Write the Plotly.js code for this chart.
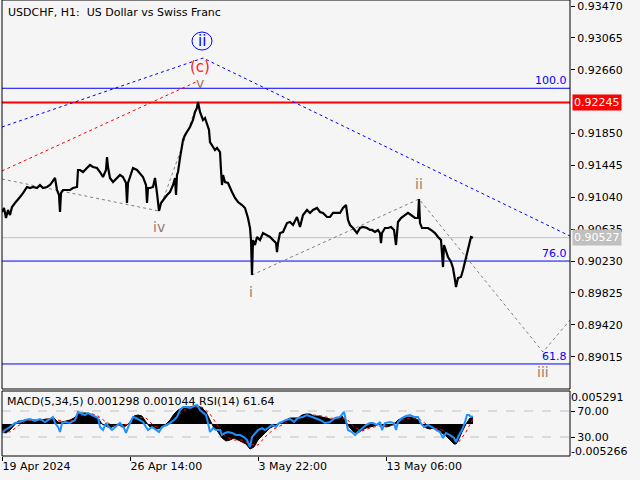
<!DOCTYPE html>
<html><head><meta charset="utf-8">
<script src="https://cdn.plot.ly/plotly-3.0.1.min.js"></script>
<style>html,body{margin:0;padding:0;background:#f5f5f5;}#chart{width:640px;height:480px;}</style>
</head><body><div id="chart"></div>
<script>
// ---- price (H1 bars, index 0 = 19 Apr 2024 06:00) ----
const priceIdx = [
 0,2,4,6,8,10,13,16,18,21,
 23,25,28,31,35,38,41,45,48,51,
 53,55,57,58,59,61,65,68,71,75,
 76,78,81,85,88,91,95,98,101,104,
 105,106,108,111,115,118,121,124,125,126,
 128,131,135,138,141,144,145,146,148,151,
 153,155,157,159,161,165,168,171,173,174,
 175,176,178,181,183,185,188,191,193,195,
 196,198,201,203,205,207,208,211,213,215,
 218,219,220,221,223,226,228,230,233,236,
 240,243,246,248,249,250,251,253,255,258,
 261,265,268,271,274,275,276,278,281,285,
 288,291,295,298,301,305,308,311,315,318,
 321,325,328,331,335,338,341,344,346,348,
 351,355,358,361,365,368,370,373,376,378,
 379,380,383,386,389,392,394,395,396,399,
 403,406,409,413,416,417,418,420,423,426,
 429,433,436,439,441,442,443,446,449,451,
 453,454,456,459,461,463,465,467,469,471];
const priceClose = [
 0.90853,0.90904,0.90777,0.90879,0.90815,0.90917,0.90968,0.91006,0.91044,0.91094,
 0.91133,0.91171,0.91158,0.91171,0.91158,0.91196,0.91158,0.91171,0.91196,0.91260,
 0.91285,0.91133,0.91069,0.90853,0.91094,0.91133,0.91133,0.91133,0.91158,0.91171,
 0.91387,0.91387,0.91361,0.91412,0.91450,0.91425,0.91412,0.91361,0.91298,0.91387,
 0.91552,0.91425,0.91285,0.91234,0.91285,0.91323,0.91298,0.91222,0.90968,0.91222,
 0.91298,0.91412,0.91387,0.91349,0.91298,0.91196,0.90968,0.91158,0.91158,0.91171,
 0.91285,0.91094,0.90866,0.90968,0.91006,0.91069,0.91107,0.91196,0.91285,0.91069,
 0.91323,0.91361,0.91539,0.91768,0.91831,0.91869,0.91933,0.92022,0.92124,0.92174,
 0.92250,0.92124,0.92022,0.92047,0.91958,0.91895,0.91742,0.91679,0.91641,0.91666,
 0.91615,0.91387,0.91196,0.91323,0.91234,0.91222,0.91158,0.91107,0.91031,0.90980,
 0.90942,0.90904,0.90777,0.90650,0.90497,0.90053,0.90497,0.90434,0.90536,0.90497,
 0.90586,0.90561,0.90536,0.90497,0.90459,0.90345,0.90459,0.90586,0.90599,0.90713,
 0.90726,0.90688,0.90790,0.90663,0.90815,0.90879,0.90841,0.90879,0.90904,0.90853,
 0.90841,0.90790,0.90790,0.90841,0.90841,0.90841,0.90904,0.90942,0.90752,0.90688,
 0.90650,0.90586,0.90650,0.90663,0.90650,0.90625,0.90625,0.90599,0.90625,0.90586,
 0.90459,0.90586,0.90650,0.90650,0.90663,0.90625,0.90434,0.90625,0.90726,0.90777,
 0.90815,0.90841,0.90815,0.90777,0.90777,0.91018,0.90713,0.90650,0.90650,0.90650,
 0.90625,0.90586,0.90536,0.90497,0.90154,0.90434,0.90396,0.90282,0.90218,0.90142,
 0.89989,0.89900,0.90015,0.90028,0.90116,0.90218,0.90332,0.90459,0.90536,0.90527];

// ---- x axis ticks ----
const xTickVals = [0, 128, 256, 384];
const xTickText = ["19 Apr 2024", "26 Apr 14:00", "3 May 22:00", "13 May 06:00"];
const xMax = 568;

// ---- price axis ----
const priceRange = [0.886047, 0.935462];
const priceTicks = [0.93470, 0.93065, 0.92660, 0.91850, 0.91445, 0.91040, 0.90635, 0.90230, 0.89825, 0.89420, 0.89015];
const bidPrice = 0.92245;
const lastPrice = 0.90527;
const fibLevels = [0.92425, 0.90230, 0.88923];
const fibLabels = ["100.0", "76.0", "61.8"];

// ---- Elliott wave lines ----
const waveBlueIdx = [0, 201, 568];
const waveBluePrice = [0.91933, 0.92809, 0.90548];
const waveRedIdx = [0, 194];
const waveRedPrice = [0.91374, 0.92505];
const waveGrayIdx = [0, 157, 196, null, 250, 417, 541, 568];
const waveGrayPrice = [0.91272, 0.90866, 0.92250, null, 0.90053, 0.91018, 0.89075, 0.89481];
const waveLabels = ["iv", "v", "i", "ii", "iii"];
const waveLabelIdx = [157, 198, 249, 417, 541];
const waveLabelPrice = [0.90663, 0.92492, 0.89837, 0.91209, 0.88821];
const bigWaveLabel = "(c)";
const bigWaveIdx = 198, bigWavePrice = 0.92695;
const circleLabel = "ii";
const circleIdx = 200, circlePrice = 0.93025;

// ---- MACD (5,34,5) ----
const macdIdx = [
 0,4,8,12,16,20,24,28,32,36,
 40,44,48,52,56,60,64,68,72,76,
 80,84,88,92,96,100,104,108,112,116,
 120,124,128,132,136,140,144,148,152,156,
 160,164,168,172,176,180,184,188,192,196,
 200,204,208,212,216,220,224,228,232,236,
 240,244,248,252,256,260,264,268,272,276,
 280,284,288,292,296,300,304,308,312,316,
 320,324,328,332,336,340,344,348,352,356,
 360,364,368,372,376,380,384,388,392,396,
 400,404,408,412,416,420,424,428,432,436,
 440,444,448,452,454,456,460,464,468,471];
const macdMain = [
 -0.00157,-0.00176,-0.00118,-0.00039,0.00059,0.00059,0.00078,0.00078,0.00078,0.00059,
 0.00078,0.00098,0.00098,0.00118,0.00039,0.00039,0.00059,0.00078,0.00118,0.00196,
 0.00216,0.00216,0.00196,0.00157,0.00118,0.00000,-0.00039,-0.00078,-0.00039,0.00000,
 -0.00059,-0.00039,0.00039,0.00157,0.00176,0.00157,0.00039,-0.00059,-0.00078,-0.00098,
 -0.00059,0.00000,0.00078,0.00196,0.00274,0.00314,0.00333,0.00333,0.00353,0.00353,
 0.00314,0.00235,0.00078,-0.00078,-0.00157,-0.00274,-0.00333,-0.00314,-0.00274,-0.00314,
 -0.00353,-0.00392,-0.00490,-0.00451,-0.00314,-0.00235,-0.00157,-0.00078,-0.00039,0.00000,
 0.00039,0.00078,0.00118,0.00118,0.00118,0.00176,0.00196,0.00196,0.00157,0.00157,
 0.00137,0.00118,0.00098,0.00078,0.00118,0.00157,0.00039,-0.00078,-0.00157,-0.00176,
 -0.00118,-0.00078,-0.00059,-0.00039,0.00000,-0.00020,-0.00059,-0.00039,0.00000,0.00078,
 0.00118,0.00137,0.00137,0.00118,0.00078,0.00000,-0.00078,-0.00098,-0.00078,-0.00118,
 -0.00176,-0.00235,-0.00314,-0.00392,-0.00392,-0.00333,-0.00157,0.00000,0.00118,0.00130];
const signalIdx = [
 0,8,16,24,32,40,48,56,64,72,
 80,88,96,104,112,120,128,136,144,152,
 160,168,176,184,192,200,208,216,224,232,
 240,248,256,264,272,280,288,296,304,312,
 320,328,336,344,352,360,368,376,384,392,
 400,408,416,424,432,440,448,456,464,471];
const macdSignal = [
 -0.00118,-0.00157,-0.00039,0.00059,0.00078,0.00078,0.00098,0.00078,0.00039,0.00078,
 0.00176,0.00216,0.00157,0.00039,-0.00039,-0.00020,0.00000,0.00137,0.00118,-0.00039,
 -0.00078,0.00000,0.00176,0.00294,0.00333,0.00333,0.00196,-0.00039,-0.00255,-0.00314,
 -0.00314,-0.00392,-0.00412,-0.00235,-0.00098,-0.00020,0.00078,0.00118,0.00157,0.00176,
 0.00157,0.00118,0.00098,0.00118,-0.00059,-0.00137,-0.00078,-0.00039,-0.00039,-0.00020,
 0.00078,0.00118,0.00118,0.00000,-0.00078,-0.00118,-0.00235,-0.00373,-0.00157,0.00104];
const macdRange = [-0.006271, 0.006467];
const macdTicks = [0.005291, -0.005266];
const macdTickText = ["0.005291", "-0.005266"];

// ---- RSI(14) ----
const rsiIdx = [
 0,3,8,13,18,23,28,33,38,43,
 48,51,53,56,58,60,63,68,73,76,
 78,83,86,90,93,96,98,101,104,106,
 110,114,118,122,124,127,131,134,138,141,
 144,146,150,154,157,160,164,168,172,175,
 178,181,184,188,192,195,198,201,204,206,
 208,211,214,218,220,223,226,230,234,238,
 242,245,248,250,253,256,260,263,266,270,
 274,277,280,284,288,292,296,301,305,311,
 318,323,328,333,338,342,344,346,350,353,
 356,360,364,368,371,375,378,380,383,388,
 392,394,396,400,404,408,412,416,418,422,
 426,430,434,438,441,444,448,452,454,457,
 460,463,465,467,469,471];
const rsiValues = [
 36.2,40.8,45.4,51.5,53.1,56.2,57.7,54.6,57.7,53.1,
 57.7,60.8,51.5,45.4,37.7,51.5,53.1,51.5,56.2,68.5,
 66.9,63.8,66.9,63.8,60.8,59.2,45.4,40.8,51.5,46.9,
 40.8,46.9,51.5,43.8,36.2,48.5,60.8,59.2,56.2,53.1,
 45.4,40.8,45.4,40.8,37.7,45.4,48.5,51.5,56.2,60.8,
 71.5,76.2,76.2,74.6,77.7,79.2,71.5,66.9,63.8,51.5,
 37.7,43.8,40.8,40.8,33.1,36.2,37.7,36.2,33.1,33.1,
 30.0,25.4,14.6,30.0,36.2,40.8,43.8,40.8,43.8,48.5,
 45.4,51.5,53.1,56.2,57.7,53.1,59.2,60.8,63.8,60.8,
 56.2,51.5,53.1,59.2,60.8,68.5,53.1,40.8,37.7,33.1,
 37.7,43.8,48.5,51.5,51.5,48.5,53.1,40.8,51.5,53.1,
 51.5,40.8,53.1,59.2,62.3,63.8,60.8,60.8,53.1,45.4,
 48.5,45.4,40.8,37.7,28.5,36.2,33.1,28.5,22.3,33.1,
 40.8,53.1,63.8,63.8,60.8,61.64];
const rsiRange = [0.77, 100.77];
const rsiLevels = [70, 30];
const rsiTickText = ["70.00", "30.00"];

const titleText = "USDCHF, H1:\u00a0\u00a0US Dollar vs Swiss Franc";
const indicatorText = "MACD(5,34,5) 0.001298 0.001044 RSI(14) 61.64";

// ---- layout geometry ----
const FONT = "DejaVu Sans";
const mainDomain = [0.1469, 1];
const subDomain = [0, 0.1425];
const bg = "#f5f5f5";

const traces = [
  {x: waveBlueIdx, y: waveBluePrice, xaxis:'x', yaxis:'y', mode:'lines',
   line:{color:'#0000ff', width:1, dash:'dot'}, hoverinfo:'skip'},
  {x: waveRedIdx, y: waveRedPrice, xaxis:'x', yaxis:'y', mode:'lines',
   line:{color:'#ff0000', width:1, dash:'dot'}, hoverinfo:'skip'},
  {x: waveGrayIdx, y: waveGrayPrice, xaxis:'x', yaxis:'y', mode:'lines', connectgaps:false,
   line:{color:'#808080', width:1, dash:'dot'}, hoverinfo:'skip'},
  {x: priceIdx, y: priceClose, xaxis:'x', yaxis:'y', mode:'lines',
   line:{color:'#000000', width:2.2}, hoverinfo:'skip'},
  {x: macdIdx, y: macdMain, xaxis:'x', yaxis:'y2', mode:'lines', fill:'tozeroy',
   fillcolor:'#000000', line:{color:'#000000', width:1}, hoverinfo:'skip'},
  {x: signalIdx, y: macdSignal, xaxis:'x', yaxis:'y2', mode:'lines',
   line:{color:'#ff0000', width:1, dash:'dot'}, hoverinfo:'skip'},
  {x: rsiIdx, y: rsiValues, xaxis:'x', yaxis:'y3', mode:'lines',
   line:{color:'#1e90ff', width:2}, hoverinfo:'skip'}
];

const shapes = [];
fibLevels.forEach(v => shapes.push({type:'line', xref:'paper', x0:0, x1:1, yref:'y', y0:v, y1:v,
  line:{color:'#0000ff', width:1}, layer:'below'}));
shapes.push({type:'line', xref:'paper', x0:0, x1:1, yref:'y', y0:bidPrice, y1:bidPrice,
  line:{color:'#ff0000', width:2}, layer:'below'});
shapes.push({type:'line', xref:'paper', x0:0, x1:1, yref:'y', y0:lastPrice, y1:lastPrice,
  line:{color:'#c0c0c0', width:1}, layer:'below'});
rsiLevels.forEach(v => shapes.push({type:'line', xref:'paper', x0:0, x1:1, yref:'y3', y0:v, y1:v,
  line:{color:'#c0c0c0', width:1, dash:'dash'}, layer:'below'}));
shapes.push({type:'circle', xref:'x', yref:'y', xsizemode:'pixel', ysizemode:'pixel',
  xanchor:circleIdx, yanchor:circlePrice, x0:-10, x1:10, y0:-9, y1:9,
  line:{color:'#0000ff', width:1}});
shapes.push({type:'rect', xref:'paper', yref:'paper', x0:0, x1:1, y0:mainDomain[0], y1:mainDomain[1],
  line:{color:'#000', width:1}});
shapes.push({type:'rect', xref:'paper', yref:'paper', x0:0, x1:1, y0:subDomain[0], y1:subDomain[1],
  line:{color:'#000', width:1}});

const annotations = [];
annotations.push({xref:'paper', yref:'paper', x:0, y:1, xanchor:'left', yanchor:'top', xshift:4, yshift:-4,
  text:titleText, showarrow:false, font:{family:FONT, size:11, color:'#000'}});
annotations.push({xref:'paper', yref:'paper', x:0, y:subDomain[1], xanchor:'left', yanchor:'top', xshift:3, yshift:-2,
  text:indicatorText, showarrow:false, font:{family:FONT, size:11, color:'#000'}});
fibLevels.forEach((v,i) => annotations.push({xref:'paper', yref:'y', x:1, y:v, xanchor:'right', yanchor:'bottom',
  xshift:-1, yshift:-1, text:fibLabels[i], showarrow:false, font:{family:FONT, size:11, color:'#0000ff'}}));
annotations.push({xref:'paper', yref:'y', x:1, y:bidPrice, xanchor:'left', yanchor:'middle', xshift:2,
  text:bidPrice.toFixed(5), showarrow:false, bgcolor:'#ff0000', borderpad:1,
  font:{family:FONT, size:11, color:'#ffffff'}});
annotations.push({xref:'paper', yref:'y', x:1, y:lastPrice, xanchor:'left', yanchor:'middle', xshift:2,
  text:lastPrice.toFixed(5), showarrow:false, bgcolor:'#c0c0c0', borderpad:1,
  font:{family:FONT, size:11, color:'#ffffff'}});
waveLabels.forEach((t,i) => annotations.push({xref:'x', yref:'y', x:waveLabelIdx[i], y:waveLabelPrice[i],
  text:t, showarrow:false, font:{family:FONT, size:14, color:'#9a7b6b'}}));
annotations.push({xref:'x', yref:'y', x:bigWaveIdx, y:bigWavePrice, text:bigWaveLabel, showarrow:false,
  font:{family:FONT, size:15, color:'#ff2020'}});
annotations.push({xref:'x', yref:'y', x:circleIdx, y:circlePrice, text:circleLabel, showarrow:false,
  font:{family:FONT, size:15, color:'#0000ff'}});

const layout = {
  width:640, height:480,
  margin:{l:2, r:70, t:0, b:24, pad:0},
  paper_bgcolor:bg, plot_bgcolor:bg,
  showlegend:false,
  font:{family:FONT, size:11, color:'#000'},
  xaxis:{domain:[0,1], range:[0, xMax], anchor:'y2', tickvals:xTickVals, ticktext:xTickText,
    ticks:'outside', ticklen:4, tickcolor:'#000', showgrid:false, zeroline:false, showline:false,
    ticklabelposition:'outside right', tickfont:{family:FONT, size:11, color:'#000'}, fixedrange:true},
  yaxis:{domain:mainDomain, range:priceRange, anchor:'x', side:'right', tickvals:priceTicks,
    tickformat:'.5f', ticks:'outside', ticklen:4, tickcolor:'#000', showgrid:false, zeroline:false,
    showline:false, ticklabeloverflow:'allow', tickfont:{family:FONT, size:11, color:'#000'}, fixedrange:true},
  yaxis2:{domain:subDomain, range:macdRange, anchor:'x', side:'right', tickvals:macdTicks,
    ticktext:macdTickText, ticks:'', showgrid:false, zeroline:false, showline:false,
    ticklabeloverflow:'allow', tickfont:{family:FONT, size:11, color:'#000'}, fixedrange:true},
  yaxis3:{overlaying:'y2', range:rsiRange, anchor:'x', side:'right', tickvals:rsiLevels,
    ticktext:rsiTickText, ticks:'outside', ticklen:4, tickcolor:'#000', showgrid:false, zeroline:false,
    showline:false, tickfont:{family:FONT, size:11, color:'#000'}, fixedrange:true},
  shapes:shapes, annotations:annotations
};

Plotly.newPlot('chart', traces, layout, {staticPlot:true, displayModeBar:false});
</script></body></html>
